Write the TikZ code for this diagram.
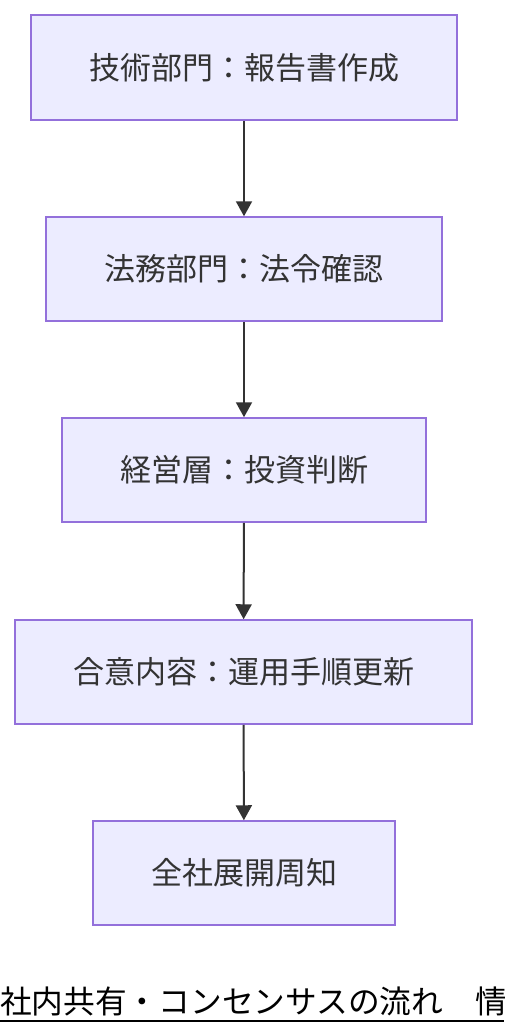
\documentclass[tikz,border=0pt]{standalone}
\usepackage{fontspec}
\setmainfont{Noto Sans CJK JP}
\usetikzlibrary{arrows.meta}
\definecolor{boxfill}{HTML}{ECECFF}
\definecolor{boxline}{HTML}{9370DB}
\definecolor{txt}{HTML}{333333}
\tikzset{
  stepbox/.style={draw=boxline, fill=boxfill, line width=1.5pt, inner sep=0pt, text=txt,
    font=\fontsize{31}{36}\selectfont},
  flow/.style={draw=txt, line width=2pt, -{Triangle[length=15pt,width=16pt]}}
}
\begin{document}
\begin{tikzpicture}[x=1pt,y=-1pt]
\useasboundingbox (0,0) rectangle (504,1036);
\node[stepbox, minimum width=426pt, minimum height=105pt] (a) at (244,67.5) {技術部門：報告書作成};
\node[stepbox, minimum width=396pt, minimum height=104pt] (b) at (244,269) {法務部門：法令確認};
\node[stepbox, minimum width=364pt, minimum height=104pt] (c) at (244,470) {経営層：投資判断};
\node[stepbox, minimum width=457pt, minimum height=104pt] (d) at (243.5,672) {合意内容：運用手順更新};
\node[stepbox, minimum width=302pt, minimum height=104pt] (e) at (244,873) {全社展開周知};
\draw[flow] (a) -- (b);
\draw[flow] (b) -- (c);
\draw[flow] (c) -- (d);
\draw[flow] (d) -- (e);
\begin{scope}
\clip (0,0) rectangle (504,1036);
\node[anchor=base west, inner sep=0pt, font=\fontsize{31.7}{36}\selectfont, text=black] (t) at (0,1013) {社内共有・コンセンサスの流れ　情};
\draw[line width=2pt] (0,1021) -- (504,1021);
\end{scope}
\end{tikzpicture}
\end{document}
